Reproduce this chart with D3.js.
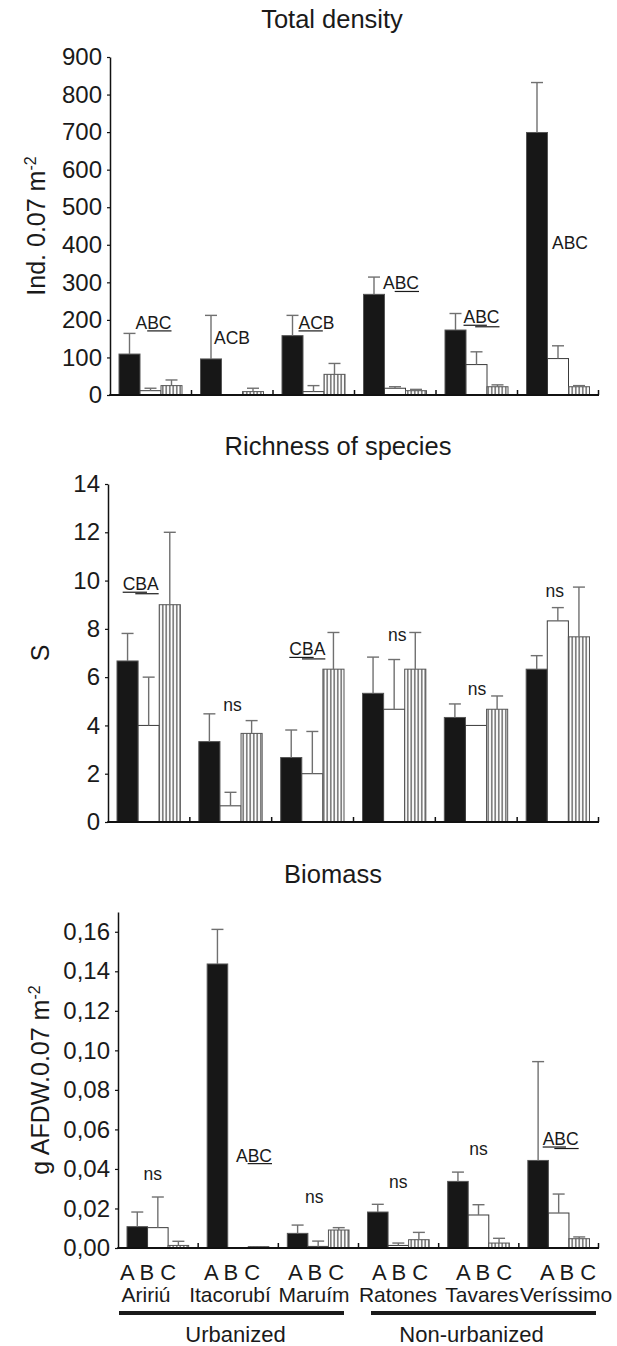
<!DOCTYPE html>
<html>
<head>
<meta charset="utf-8">
<script src="https://cdn.jsdelivr.net/npm/d3@7"></script>
<style>
  body { margin: 0; background: #fff; }
  svg text { font-family: 'Liberation Sans', Arial, sans-serif; fill: #1a1a1a; }
</style>
</head>
<body>
<svg id="chart" width="617" height="1346"></svg>
<script>
/******************* Data ***********************************/
var sites = ['Aririú', 'Itacorubí', 'Maruím', 'Ratones', 'Tavares', 'Veríssimo'];
var siteGroup = ['Urbanized', 'Urbanized', 'Urbanized', 'Non-urbanized', 'Non-urbanized', 'Non-urbanized'];
var treatments = ['A', 'B', 'C'];

// Total density (ind. 0.07 m-2), mean and error per treatment
var densityA = [109, 96, 158, 268, 173, 699];
var densityB = [11.5, 0, 9, 18, 81, 97];
var densityC = [25, 9, 55, 11.5, 22, 22];
var densityErrA = [55, 116, 54, 46, 44, 133];
var densityErrB = [6.5, 0, 16, 4, 34, 34];
var densityErrC = [15, 9, 29, 3.5, 5, 3];
var densityTicks = [0, 100, 200, 300, 400, 500, 600, 700, 800, 900];

// Richness of species (S)
var richnessA = [6.67, 3.33, 2.67, 5.33, 4.33, 6.33];
var richnessB = [4, 0.67, 2, 4.67, 4, 8.33];
var richnessC = [9, 3.67, 6.33, 6.33, 4.67, 7.67];
var richnessErrA = [1.14, 1.15, 1.14, 1.5, 0.56, 0.56];
var richnessErrB = [2, 0.56, 1.75, 2.06, 0, 0.55];
var richnessErrC = [3, 0.53, 1.52, 1.52, 0.55, 2.06];
var richnessTicks = [0, 2, 4, 6, 8, 10, 12, 14];

// Biomass (g AFDW 0.07 m-2)
var biomassA = [0.0108, 0.1437, 0.0074, 0.0182, 0.0337, 0.0443];
var biomassB = [0.0103, 0, 0.0008, 0.0013, 0.0167, 0.0177];
var biomassC = [0.0013, 0.0007, 0.0091, 0.0042, 0.0025, 0.0047];
var biomassErrA = [0.0074, 0.0175, 0.0042, 0.0039, 0.0047, 0.05];
var biomassErrB = [0.0155, 0, 0.0027, 0.0012, 0.0052, 0.0096];
var biomassErrC = [0.0021, 0, 0.0012, 0.0037, 0.0024, 0.0009];
var biomassTicks = [0, 0.02, 0.04, 0.06, 0.08, 0.10, 0.12, 0.14, 0.16];

// test letters over each site: text, underlined char ranges, level (data units), nudge
var densityNotes = [
  { site: 'Aririú', text: 'ABC', under: [[1, 3]], at: 176, dx: 3 },
  { site: 'Itacorubí', text: 'ACB', under: [], at: 136, dx: 0 },
  { site: 'Maruím', text: 'ACB', under: [[0, 2]], at: 176, dx: 3 },
  { site: 'Ratones', text: 'ABC', under: [[1, 3]], at: 281, dx: 6 },
  { site: 'Tavares', text: 'ABC', under: [[0, 2], [1, 3]], at: 191, dx: 5 },
  { site: 'Veríssimo', text: 'ABC', under: [], at: 388, dx: 12 }
];
var richnessNotes = [
  { site: 'Aririú', text: 'CBA', under: [[0, 2], [1, 3]], at: 9.6, dx: -8 },
  { site: 'Itacorubí', text: 'ns', under: [], at: 4.6, dx: 2 },
  { site: 'Maruím', text: 'CBA', under: [[0, 2], [1, 3]], at: 6.9, dx: -5 },
  { site: 'Ratones', text: 'ns', under: [], at: 7.5, dx: 3 },
  { site: 'Tavares', text: 'ns', under: [], at: 5.25, dx: 1 },
  { site: 'Veríssimo', text: 'ns', under: [], at: 9.3, dx: -3 }
];
var biomassNotes = [
  { site: 'Aririú', text: 'ns', under: [], at: 0.0344, dx: -5 },
  { site: 'Itacorubí', text: 'ABC', under: [[1, 3]], at: 0.0437, dx: 16 },
  { site: 'Maruím', text: 'ns', under: [], at: 0.0226, dx: -4 },
  { site: 'Ratones', text: 'ns', under: [], at: 0.0302, dx: 0 },
  { site: 'Tavares', text: 'ns', under: [], at: 0.0471, dx: 0 },
  { site: 'Veríssimo', text: 'ABC', under: [[0, 2], [1, 3]], at: 0.0521, dx: 2 }
];

/******************* Layout *********************************/
var panels = [
  {
    title: 'Total density', label: 'Ind. 0.07 m', sup: '-2',
    means: [densityA, densityB, densityC], errs: [densityErrA, densityErrB, densityErrC],
    ticks: densityTicks, notes: densityNotes, max: 900,
    fmt: d3.format('d'),
    left: 110, right: 599, top: 57, bottom: 395, labelX: 36, titleX: 332
  },
  {
    title: 'Richness of species', label: 'S', sup: '',
    means: [richnessA, richnessB, richnessC], errs: [richnessErrA, richnessErrB, richnessErrC],
    ticks: richnessTicks, notes: richnessNotes, max: 14,
    fmt: d3.format('d'),
    left: 108, right: 599, top: 484, bottom: 822, labelX: 40, titleX: 338
  },
  {
    title: 'Biomass', label: 'g AFDW.0.07 m', sup: '-2',
    means: [biomassA, biomassB, biomassC], errs: [biomassErrA, biomassErrB, biomassErrC],
    ticks: biomassTicks, notes: biomassNotes, max: 0.17,
    fmt: function(d) { return d3.format('.2f')(d).replace('.', ','); },
    left: 118, right: 599, top: 912, bottom: 1248, labelX: 40, titleX: 333
  }
];
var groupLabelNudge = { 'Urbanized': 4, 'Non-urbanized': -12 };

var svg = d3.select('#chart');
var defs = svg.append('defs');
var hatch = defs.append('pattern')
  .attr('id', 'vhatch')
  .attr('patternUnits', 'userSpaceOnUse')
  .attr('width', 3.5)
  .attr('height', 8);
hatch.append('rect').attr('width', 3.5).attr('height', 8).attr('fill', '#fff');
hatch.append('line')
  .attr('x1', 1.75).attr('x2', 1.75).attr('y1', 0).attr('y2', 8)
  .attr('stroke', '#222').attr('stroke-width', 1);

var fills = { A: '#171717', B: '#fff', C: 'url(#vhatch)' };
var strokes = { A: '#555', B: '#3a3a3a', C: '#555' };

panels.forEach(drawPanel);
drawSiteLabels();

/******************* Drawing ********************************/
function drawPanel(p) {
  var g = svg.append('g');

  var x = d3.scaleBand().domain(sites).range([p.left, p.right]).padding(0);
  var inner = d3.scaleBand().domain(treatments).range([9, x.bandwidth() - 9.5]).padding(0);
  var y = d3.scaleLinear().domain([0, p.max]).range([p.bottom, p.top]);

  var rows = [];
  sites.forEach(function(s, si) {
    treatments.forEach(function(t, ti) {
      rows.push({ site: s, trt: t, v: p.means[ti][si], e: p.errs[ti][si] });
    });
  });

  // bars
  g.selectAll('rect.bar')
    .data(rows.filter(function(d) { return d.v > 0; }))
    .enter().append('rect')
    .attr('class', 'bar')
    .attr('x', function(d) { return x(d.site) + inner(d.trt); })
    .attr('y', function(d) { return y(d.v); })
    .attr('width', inner.bandwidth())
    .attr('height', function(d) { return y(0) - y(d.v); })
    .attr('fill', function(d) { return fills[d.trt]; })
    .attr('stroke', function(d) { return strokes[d.trt]; })
    .attr('stroke-width', 1);

  // error bars
  var errRows = rows.filter(function(d) { return d.v > 0 && d.e > 0; });
  var eg = g.selectAll('g.err').data(errRows).enter().append('g')
    .attr('class', 'err')
    .attr('stroke', '#707070')
    .attr('stroke-width', 1.4);
  eg.append('line')
    .attr('x1', function(d) { return x(d.site) + inner(d.trt) + inner.bandwidth() / 2; })
    .attr('x2', function(d) { return x(d.site) + inner(d.trt) + inner.bandwidth() / 2; })
    .attr('y1', function(d) { return y(d.v); })
    .attr('y2', function(d) { return y(d.v + d.e); });
  eg.append('line')
    .attr('x1', function(d) { return x(d.site) + inner(d.trt) + inner.bandwidth() / 2 - 6; })
    .attr('x2', function(d) { return x(d.site) + inner(d.trt) + inner.bandwidth() / 2 + 6; })
    .attr('y1', function(d) { return y(d.v + d.e); })
    .attr('y2', function(d) { return y(d.v + d.e); });

  // y axis
  var yAxis = g.append('g')
    .attr('transform', 'translate(' + p.left + ',0)')
    .call(d3.axisLeft(y).tickValues(p.ticks).tickSize(3).tickSizeOuter(0).tickPadding(5).tickFormat(p.fmt));
  yAxis.attr('font-size', null).attr('font-family', null);
  yAxis.select('.domain').attr('stroke', '#111').attr('stroke-width', 1.5);
  yAxis.selectAll('.tick line').attr('stroke', '#111').attr('stroke-width', 1.2);
  yAxis.selectAll('.tick text').style('font-size', '24px').attr('fill', '#1a1a1a');

  // x axis with group separators
  g.append('line')
    .attr('x1', p.left - 0.75).attr('x2', p.right)
    .attr('y1', p.bottom).attr('y2', p.bottom)
    .attr('stroke', '#111').attr('stroke-width', 2);
  g.selectAll('line.sep')
    .data(sites.slice(1).concat(['end']))
    .enter().append('line')
    .attr('class', 'sep')
    .attr('x1', function(d) { return d === 'end' ? p.right - 0.5 : x(d); })
    .attr('x2', function(d) { return d === 'end' ? p.right - 0.5 : x(d); })
    .attr('y1', p.bottom).attr('y2', p.bottom - 5)
    .attr('stroke', '#111').attr('stroke-width', 1.5);

  // title
  g.append('text')
    .attr('x', p.titleX).attr('y', p.top - 29)
    .attr('text-anchor', 'middle')
    .style('font-size', '25.5px')
    .text(p.title);

  // y label
  var lab = g.append('text')
    .attr('transform', 'translate(' + p.labelX + ',' + ((p.top + p.bottom) / 2) + ') rotate(-90)')
    .attr('text-anchor', 'middle')
    .attr('dy', '0.35em')
    .style('font-size', '25px')
    .text(p.label);
  if (p.sup) {
    lab.append('tspan').attr('dy', '-0.55em').style('font-size', '16px').text(p.sup);
  }

  // significance letters
  p.notes.forEach(function(n) {
    var cx = x(n.site) + inner('B') + inner.bandwidth() / 2 + n.dx;
    var t = g.append('text')
      .attr('x', cx).attr('y', y(n.at))
      .attr('text-anchor', 'middle')
      .style('font-size', '17.5px')
      .text(n.text);
    var node = t.node();
    n.under.forEach(function(u, k) {
      var x0 = node.getStartPositionOfChar(u[0]).x;
      var x1 = node.getEndPositionOfChar(u[1] - 1).x;
      g.append('line')
        .attr('x1', x0).attr('x2', x1)
        .attr('y1', y(n.at) + 2 + k * 1.5).attr('y2', y(n.at) + 2 + k * 1.5)
        .attr('stroke', '#1a1a1a').attr('stroke-width', 1.2);
    });
  });
}

function drawSiteLabels() {
  var lx = d3.scaleBand().domain(sites).range([104, 608]);
  var g = svg.append('g');

  g.selectAll('text.trt')
    .data(sites).enter().append('text')
    .attr('class', 'trt')
    .attr('x', function(d) { return lx(d) + lx.bandwidth() / 2 + 2; })
    .attr('y', 1280)
    .attr('text-anchor', 'middle')
    .style('font-size', '22px')
    .text(treatments.join(' '));

  g.selectAll('text.site')
    .data(sites).enter().append('text')
    .attr('class', 'site')
    .attr('x', function(d) { return lx(d) + lx.bandwidth() / 2; })
    .attr('y', 1302)
    .attr('text-anchor', 'middle')
    .style('font-size', '21px')
    .text(function(d) { return d; });

  var groups = d3.groups(sites, function(d) { return siteGroup[sites.indexOf(d)]; });
  groups.forEach(function(gr) {
    var first = gr[1][0];
    var last = gr[1][gr[1].length - 1];
    var x0 = lx(first) + 15;
    var x1 = lx(last) + lx.bandwidth() - 12;
    g.append('line')
      .attr('x1', x0).attr('x2', x1)
      .attr('y1', 1313).attr('y2', 1313)
      .attr('stroke', '#1a1a1a').attr('stroke-width', 4);
    g.append('text')
      .attr('x', (x0 + x1) / 2 + groupLabelNudge[gr[0]]).attr('y', 1342)
      .attr('text-anchor', 'middle')
      .style('font-size', '22px')
      .text(gr[0]);
  });
}
</script>
</body>
</html>
